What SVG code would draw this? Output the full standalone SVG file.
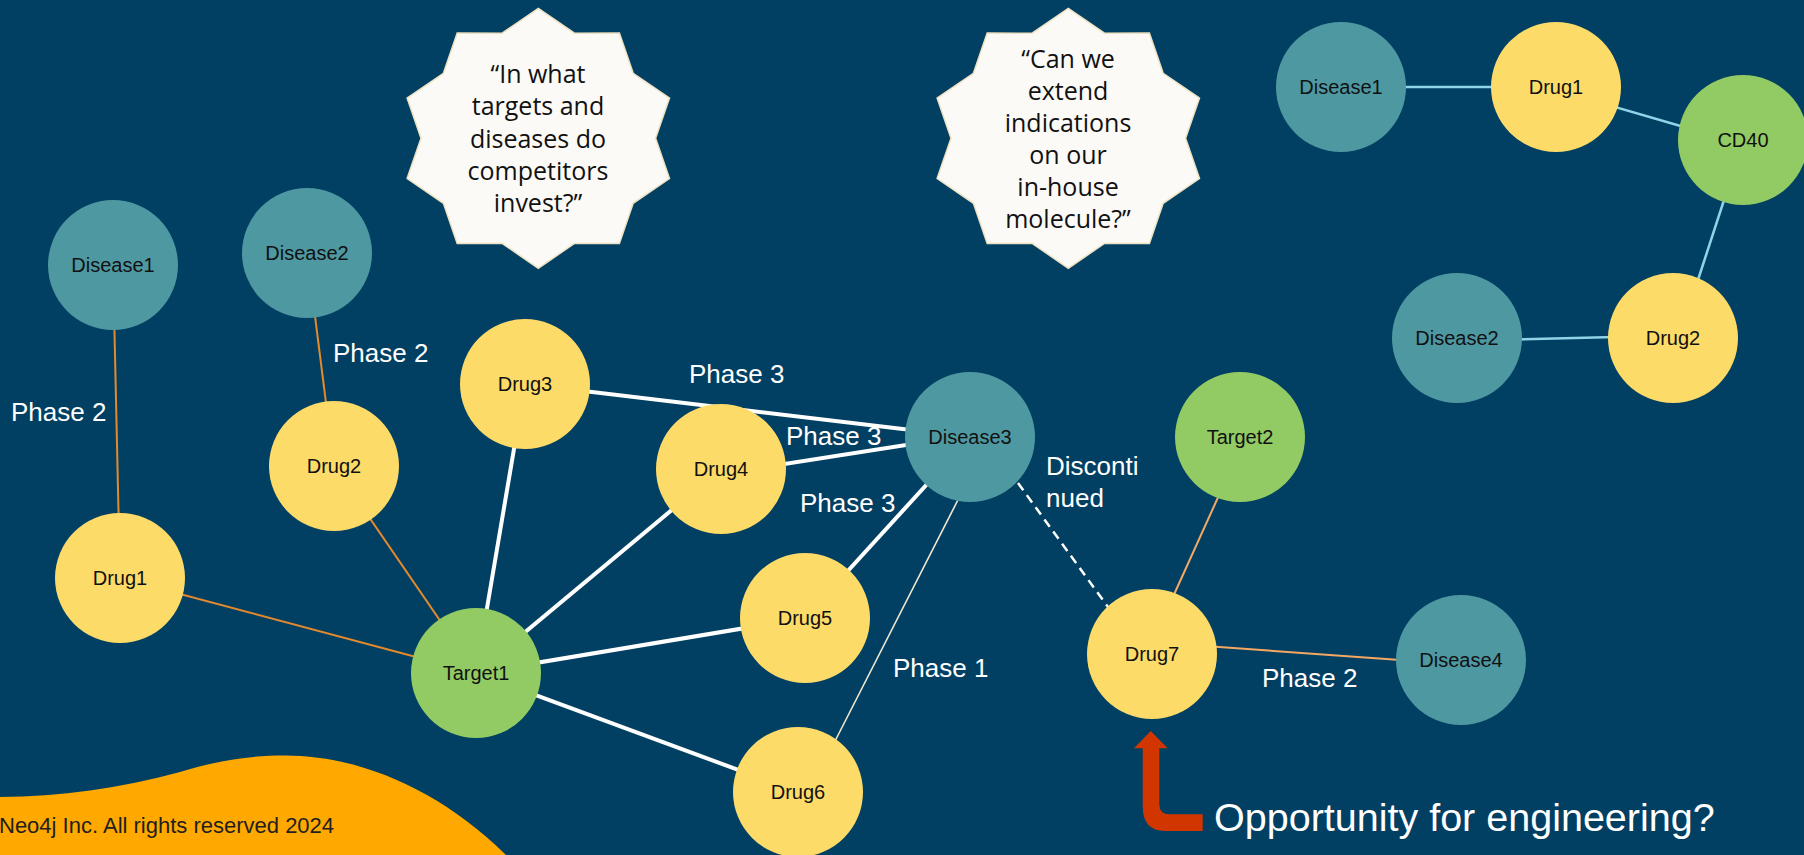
<svg xmlns="http://www.w3.org/2000/svg" width="1804" height="855" viewBox="0 0 1804 855">
<style>
  .disease{fill:#4e98a2}
  .drug{fill:#fddb68}
  .target{fill:#92ca63}
  .lbl{font-family:'Liberation Sans',Arial,sans-serif;font-size:20px;fill:#111;text-anchor:middle}
  .ew{stroke:#ffffff;stroke-width:4;fill:none}
  .eo{stroke:#e58a2c;stroke-width:2;fill:none}
  .ep{stroke:#f4a863;stroke-width:2;fill:none}
  .ec{stroke:#efe8cf;stroke-width:1.6;fill:none}
  .eb{stroke:#8fd4e8;stroke-width:2.5;fill:none}
  .ed{stroke:#ffffff;stroke-width:2.5;stroke-dasharray:9 6;fill:none}
  .elbl{font-family:'Liberation Sans',Arial,sans-serif;font-size:26px;fill:#ffffff}
  .star{fill:#fcfaf6;stroke:#eee2c2;stroke-width:1.5}
  .stxt{font-family:'Open Sans','Liberation Sans',sans-serif;font-size:25px;fill:#111;text-anchor:middle}
</style>
<defs>
  <path id="star10" d="M0,-130 L36.2,-105.1 L81.1,-105.2 L94.9,-65 L131.2,-40.2 L117.3,0 L131.2,40.2 L94.9,65 L81.1,105.2 L36.2,105.1 L0,130 L-36.2,105.1 L-81.1,105.2 L-94.9,65 L-131.2,40.2 L-117.3,0 L-131.2,-40.2 L-94.9,-65 L-81.1,-105.2 L-36.2,-105.1 Z"/>
</defs>
<rect width="1804" height="855" fill="#024063"/>
<path d="M0,797 C60,797 120,788 180,772 C220,760 250,755.5 285,755.5 C360,755.5 440,790 506,855 L0,855 Z" fill="#ffa800"/>
<text x="-1" y="833" font-family="'Liberation Sans',Arial,sans-serif" font-size="22" fill="#1f1f1f">Neo4j Inc. All rights reserved 2024</text>

<g id="star1">
  <use href="#star10" class="star" transform="translate(538.3,138.3)"/>
  <text class="stxt"><tspan x="538" y="83">“In what</tspan><tspan x="538" y="115">targets and</tspan><tspan x="538" y="147.5">diseases do</tspan><tspan x="538" y="180">competitors</tspan><tspan x="538" y="212">invest?”</tspan></text>
</g>
<g id="star2">
  <use href="#star10" class="star" transform="translate(1068.3,138.3)"/>
  <text class="stxt"><tspan x="1068" y="68">“Can we</tspan><tspan x="1068" y="100">extend</tspan><tspan x="1068" y="132">indications</tspan><tspan x="1068" y="163.5">on our</tspan><tspan x="1068" y="195.5">in-house</tspan><tspan x="1068" y="227.5">molecule?”</tspan></text>
</g>

<g id="connectors">
  <line class="eo" x1="113" y1="265" x2="120" y2="578"/>
  <line class="eo" x1="307" y1="253" x2="334" y2="466"/>
  <line class="eo" x1="120" y1="578" x2="476" y2="673"/>
  <line class="eo" x1="334" y1="466" x2="476" y2="673"/>
  <line class="ew" x1="525" y1="384" x2="476" y2="673"/>
  <line class="ew" x1="476" y1="673" x2="721" y2="469"/>
  <line class="ew" x1="476" y1="673" x2="805" y2="618"/>
  <line class="ew" x1="476" y1="673" x2="798" y2="792"/>
  <line class="ew" x1="525" y1="384" x2="970" y2="437"/>
  <line class="ew" x1="721" y1="474" x2="970" y2="435"/>
  <line class="ew" x1="805" y1="618" x2="970" y2="437"/>
  <line class="ec" x1="832" y1="747" x2="962" y2="492"/>
  <line class="ed" x1="1018" y1="483" x2="1108" y2="607"/>
  <line class="ep" x1="1172" y1="599" x2="1220" y2="493"/>
  <line class="ep" x1="1205" y1="646" x2="1400" y2="660"/>
  <line class="eb" x1="1341" y1="87" x2="1556" y2="87"/>
  <line class="eb" x1="1600" y1="102.6" x2="1690" y2="128.8"/>
  <line class="eb" x1="1726" y1="194" x2="1696" y2="286"/>
  <line class="eb" x1="1515" y1="339.5" x2="1615" y2="337"/>
</g>

<g id="n-disease1"><circle class="disease" cx="113" cy="265" r="65"/><text class="lbl" x="113" y="272">Disease1</text></g>
<g id="n-disease2"><circle class="disease" cx="307" cy="253" r="65"/><text class="lbl" x="307" y="260">Disease2</text></g>
<g id="n-drug1"><circle class="drug" cx="120" cy="578" r="65"/><text class="lbl" x="120" y="585">Drug1</text></g>
<g id="n-drug2"><circle class="drug" cx="334" cy="466" r="65"/><text class="lbl" x="334" y="473">Drug2</text></g>
<g id="n-drug3"><circle class="drug" cx="525" cy="384" r="65"/><text class="lbl" x="525" y="391">Drug3</text></g>
<g id="n-drug4"><circle class="drug" cx="721" cy="469" r="65"/><text class="lbl" x="721" y="476">Drug4</text></g>
<g id="n-drug5"><circle class="drug" cx="805" cy="618" r="65"/><text class="lbl" x="805" y="625">Drug5</text></g>
<g id="n-drug6"><circle class="drug" cx="798" cy="792" r="65"/><text class="lbl" x="798" y="799">Drug6</text></g>
<g id="n-target1"><circle class="target" cx="476" cy="673" r="65"/><text class="lbl" x="476" y="680">Target1</text></g>
<g id="n-disease3"><circle class="disease" cx="970" cy="437" r="65"/><text class="lbl" x="970" y="444">Disease3</text></g>
<g id="n-drug7"><circle class="drug" cx="1152" cy="654" r="65"/><text class="lbl" x="1152" y="661">Drug7</text></g>
<g id="n-target2"><circle class="target" cx="1240" cy="437" r="65"/><text class="lbl" x="1240" y="444">Target2</text></g>
<g id="n-disease4"><circle class="disease" cx="1461" cy="660" r="65"/><text class="lbl" x="1461" y="667">Disease4</text></g>
<g id="r-disease1"><circle class="disease" cx="1341" cy="87" r="65"/><text class="lbl" x="1341" y="94">Disease1</text></g>
<g id="r-drug1"><circle class="drug" cx="1556" cy="87" r="65"/><text class="lbl" x="1556" y="94">Drug1</text></g>
<g id="r-cd40"><circle class="target" cx="1743" cy="140" r="65"/><text class="lbl" x="1743" y="147">CD40</text></g>
<g id="r-disease2"><circle class="disease" cx="1457" cy="338" r="65"/><text class="lbl" x="1457" y="345">Disease2</text></g>
<g id="r-drug2"><circle class="drug" cx="1673" cy="338" r="65"/><text class="lbl" x="1673" y="345">Drug2</text></g>

<g id="edge-labels">
  <text class="elbl" x="11" y="421">Phase 2</text>
  <text class="elbl" x="333" y="361.5">Phase 2</text>
  <text class="elbl" x="689" y="383">Phase 3</text>
  <text class="elbl" x="786" y="445">Phase 3</text>
  <text class="elbl" x="800" y="511.5">Phase 3</text>
  <text class="elbl" x="893" y="676.5">Phase 1</text>
  <text class="elbl"><tspan x="1046" y="475">Disconti</tspan><tspan x="1046" y="506.5">nued</tspan></text>
  <text class="elbl" x="1262" y="686.5">Phase 2</text>
</g>

<g id="callout">
  <path d="M1150.7,731 L1167.7,748.3 L1159.3,748.3 L1159.3,804 Q1159.3,814.3 1169.5,814.3 L1202.7,814.3 L1202.7,831 L1165,831 Q1142.7,831 1142.7,806 L1142.7,748.3 L1134,748.3 Z" fill="#d23600"/>
  <text x="1214" y="831" font-family="'Liberation Sans',Arial,sans-serif" font-size="39.5" fill="#ffffff">Opportunity for engineering?</text>
</g>
</svg>
